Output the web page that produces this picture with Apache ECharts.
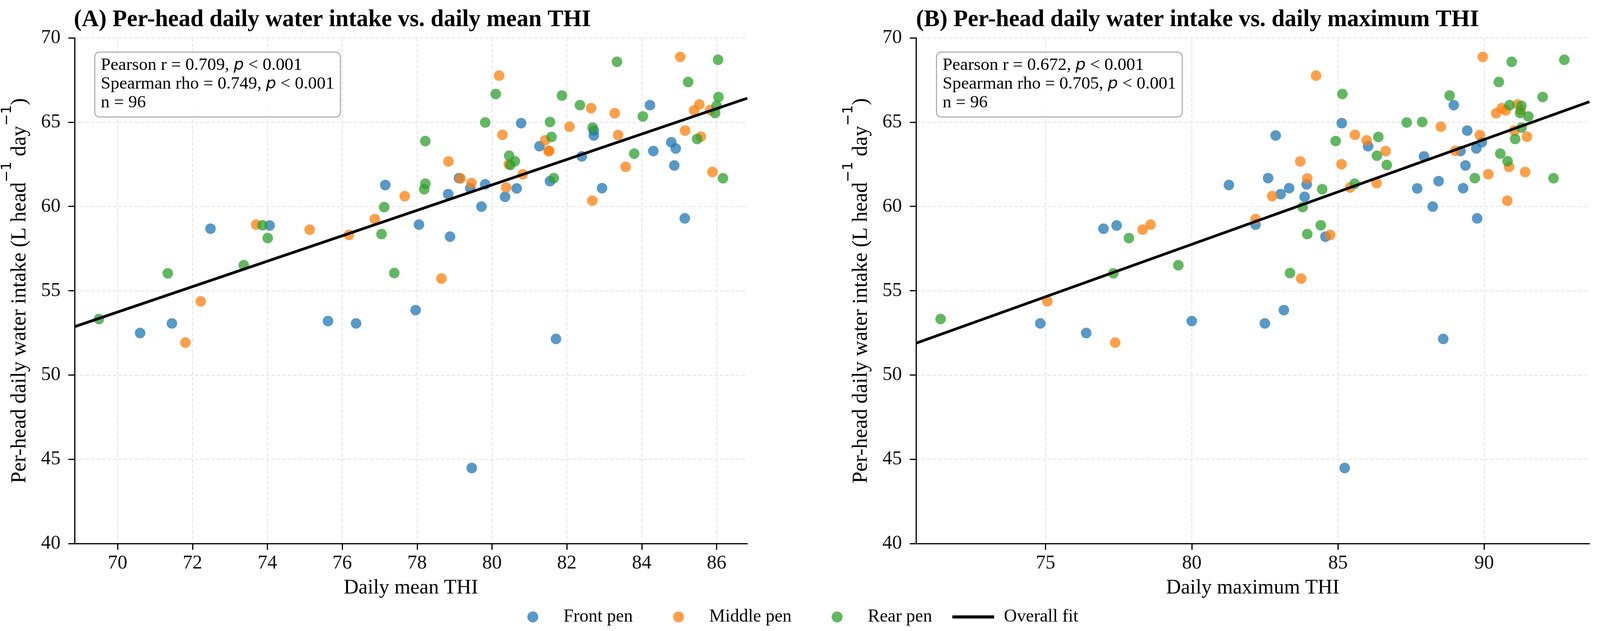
<!DOCTYPE html>
<html>
<head>
<meta charset="utf-8">
<script src="https://cdn.jsdelivr.net/npm/echarts@6/dist/echarts.min.js"></script>
<style>
html, body { margin: 0; padding: 0; background: #fff; }
#chart { width: 4117px; height: 1616px; }
</style>
</head>
<body>
<div id="chart"></div>
<script>
// per-head daily water intake, with daily mean / max THI of the same day
var frontIntake = [52.49, 53.06, 58.68, 58.87, 53.20, 53.06, 61.27, 53.85, 58.92, 58.21, 60.73, 61.68, 61.08, 61.31, 59.99, 60.57,
                   61.07, 64.94, 63.57, 61.50, 52.14, 62.97, 64.50, 64.21, 61.08, 66.01, 63.29, 63.81, 63.44, 62.43, 59.29, 44.48];
var frontMeanTHI = [70.60, 71.45, 72.48, 74.06, 75.62, 76.37, 77.15, 77.96, 78.05, 78.88, 78.83, 79.12, 79.42, 79.82, 79.72, 80.35,
                    80.66, 80.78, 81.27, 81.55, 81.71, 82.40, 82.72, 82.72, 82.94, 84.22, 84.31, 84.79, 84.91, 84.87, 85.15, 79.46];
var frontMaxTHI = [76.39, 74.82, 76.98, 77.43, 80.00, 82.50, 81.27, 83.15, 82.18, 84.57, 83.04, 82.61, 83.33, 83.93, 88.24, 83.86,
                   87.71, 85.13, 86.03, 88.44, 88.60, 87.94, 89.42, 82.87, 89.28, 88.96, 89.19, 89.92, 89.73, 89.36, 89.76, 85.23];

var middleIntake = [51.92, 54.37, 58.92, 58.62, 58.31, 59.25, 60.61, 55.72, 62.67, 61.66, 61.39, 67.76, 64.25, 61.12, 61.91, 63.92,
                    63.28, 63.30, 64.73, 65.83, 60.34, 65.53, 64.24, 62.35, 68.87, 64.50, 66.05, 65.70, 64.14, 65.72, 62.04, 62.50];
var middleMeanTHI = [71.81, 72.22, 73.70, 75.13, 76.18, 76.87, 77.67, 78.65, 78.84, 79.16, 79.45, 80.19, 80.28, 80.38, 80.82, 81.42,
                     81.51, 81.53, 82.07, 82.65, 82.68, 83.28, 83.37, 83.57, 85.03, 85.16, 85.54, 85.40, 85.58, 85.83, 85.89, 80.45];
var middleMaxTHI = [77.38, 75.06, 78.59, 78.32, 84.73, 82.18, 82.75, 83.74, 83.71, 83.95, 86.32, 84.25, 85.58, 85.41, 90.14, 85.98,
                    86.63, 89.01, 88.52, 90.60, 90.79, 90.41, 89.85, 90.85, 89.95, 91.03, 91.14, 90.74, 91.46, 91.25, 91.40, 85.12];

var rearIntake = [53.32, 56.03, 56.51, 58.88, 58.12, 59.96, 58.36, 56.05, 63.88, 61.35, 61.02, 64.98, 66.67, 63.01, 62.68, 62.46,
                  64.12, 65.01, 61.68, 66.58, 66.01, 64.68, 68.58, 63.13, 65.34, 67.38, 64.00, 68.70, 66.49, 65.97, 65.54, 61.67];
var rearMeanTHI = [69.50, 71.34, 73.37, 73.87, 74.01, 77.12, 77.05, 77.39, 78.22, 78.22, 78.19, 79.82, 80.10, 80.46, 80.61, 80.49,
                   81.59, 81.55, 81.65, 81.87, 82.35, 82.69, 83.34, 83.80, 84.03, 85.24, 85.48, 86.04, 86.05, 86.00, 85.96, 86.17];
var rearMaxTHI = [71.41, 77.32, 79.54, 84.41, 77.85, 83.79, 83.95, 83.36, 84.92, 85.57, 84.46, 87.35, 85.15, 86.33, 90.80, 86.67,
                  86.38, 87.88, 89.68, 88.82, 90.87, 91.28, 90.94, 90.55, 91.51, 90.50, 91.06, 92.74, 92.00, 91.27, 91.23, 92.37];

var meanTicks = [70, 72, 74, 76, 78, 80, 82, 84, 86];
var maxTicks = [75, 80, 85, 90];
var intakeTicks = [40, 45, 50, 55, 60, 65, 70];

var statsA = ['0.709', '0.749', '96'];
var statsB = ['0.672', '0.705', '96'];

var serif = 'Liberation Serif';

function pairs(xs, ys) {
    return xs.map(function (x, i) { return [x, ys[i]]; });
}

// least squares line over all pens, drawn across the axis range
function fitLine(xs, ys, x0, x1) {
    var n = xs.length, mx = 0, my = 0, sxy = 0, sxx = 0;
    for (var i = 0; i < n; i++) { mx += xs[i]; my += ys[i]; }
    mx /= n; my /= n;
    for (var j = 0; j < n; j++) {
        sxy += (xs[j] - mx) * (ys[j] - my);
        sxx += (xs[j] - mx) * (xs[j] - mx);
    }
    var b = sxy / sxx, a = my - b * mx;
    return [[x0, a + b * x0], [x1, a + b * x1]];
}

var allIntake = frontIntake.concat(middleIntake, rearIntake);
var allMean = frontMeanTHI.concat(middleMeanTHI, rearMeanTHI);
var allMax = frontMaxTHI.concat(middleMaxTHI, rearMaxTHI);

var rangeMean = [68.85, 86.82];
var rangeMax = [70.57, 93.6];

function statText(s) {
    return 'Pearson r = ' + s[0] + ', {p|p} < 0.001\n' +
           'Spearman rho = ' + s[1] + ', {p|p} < 0.001\n' +
           'n = ' + s[2];
}

function statBox(s, left) {
    return {
        text: statText(s),
        left: left,
        top: 133,
        padding: [10, 16, 13, 16],
        backgroundColor: 'rgba(255,255,255,0.8)',
        borderColor: '#b3b3b3',
        borderWidth: 3,
        borderRadius: 12,
        textStyle: {
            fontFamily: serif, fontSize: 45, fontWeight: 'normal', color: '#000', lineHeight: 48,
            rich: { p: { fontFamily: 'DejaVu Sans', fontStyle: 'italic', fontSize: 41, lineHeight: 48, color: '#000' } }
        }
    };
}

function panelTitle(text, left) {
    return {
        text: text, left: left, top: 21, padding: 0,
        textStyle: { fontFamily: serif, fontWeight: 'bold', fontSize: 60.5, color: '#000' }
    };
}

var gridLine = { show: true, lineStyle: { color: '#e2e2e2', width: 2, type: [9, 5] } };

function xAxisOf(idx, range, ticks, name) {
    return {
        type: 'value', gridIndex: idx, min: range[0], max: range[1],
        name: name, nameLocation: 'middle', nameGap: 88,
        nameTextStyle: { fontFamily: serif, fontSize: 52.5, color: '#000' },
        axisLine: { show: true, onZero: false, lineStyle: { color: '#000', width: 3 } },
        axisTick: { show: true, inside: false, length: 16, lineStyle: { color: '#000', width: 3 }, customValues: ticks },
        axisLabel: { fontFamily: serif, fontSize: 50, color: '#111', margin: 26, customValues: ticks },
        splitLine: gridLine
    };
}

function yAxisOf(idx) {
    return {
        type: 'value', gridIndex: idx, min: intakeTicks[0], max: intakeTicks[intakeTicks.length - 1], interval: 5,
        name: 'Per-head daily water intake (L head{s|\u22121} day{s|\u22121})',
        nameLocation: 'middle', nameGap: 52, nameRotate: 90,
        nameTextStyle: {
            fontFamily: serif, fontSize: 54, color: '#000', lineHeight: 100,
            rich: { s: { fontFamily: 'DejaVu Sans', fontSize: 36, color: '#000', verticalAlign: 'top', lineHeight: 40 } }
        },
        axisLine: { show: true, lineStyle: { color: '#000', width: 3 } },
        axisTick: { show: true, inside: false, length: 16, lineStyle: { color: '#000', width: 3 } },
        axisLabel: { fontFamily: serif, fontSize: 50, color: '#111', margin: 36 },
        splitLine: gridLine
    };
}

function scatterOf(name, color, xs, ys, idx) {
    return {
        type: 'scatter', name: name, xAxisIndex: idx, yAxisIndex: idx,
        data: pairs(xs, ys), symbol: 'circle', symbolSize: 27,
        itemStyle: { color: color, opacity: 0.75 },
        emphasis: { disabled: true }
    };
}

function fitOf(xs, range, idx) {
    return {
        type: 'line', name: 'Overall fit', xAxisIndex: idx, yAxisIndex: idx,
        data: fitLine(xs, allIntake, range[0], range[1]),
        symbol: 'none', showSymbol: false, z: 5,
        lineStyle: { color: '#000', width: 7 }, itemStyle: { color: '#000' },
        emphasis: { disabled: true }
    };
}

// one legend per entry so each handle sits where the reference has it
function legendItem(name, left, icon) {
    return {
        data: [{ name: name, icon: icon }],
        left: left, top: 1552, orient: 'horizontal',
        itemWidth: 107, itemHeight: 28, symbolKeepAspect: true,
        formatter: function (n) { return '{g| }' + n; },
        textStyle: {
            fontFamily: serif, fontSize: 46, color: '#000',
            rich: { g: { width: 20, fontSize: 46 } }
        }
    };
}

var chartDom = document.getElementById('chart');
var myChart = echarts.init(chartDom, null, { renderer: 'canvas' });
var option;

option = {
    animation: false,
    backgroundColor: '#fff',
    title: [
        panelTitle('(A) Per-head daily water intake vs. daily mean THI', 189),
        panelTitle('(B) Per-head daily water intake vs. daily maximum THI', 2345),
        statBox(statsA, 242),
        statBox(statsB, 2397)
    ],
    legend: [
        legendItem('Front pen', 1345, 'circle'),
        legendItem('Middle pen', 1718, 'circle'),
        legendItem('Rear pen', 2124, 'circle'),
        legendItem('Overall fit', 2433, 'path://M0,0L107,0L107,8L0,8Z')
    ],
    grid: [
        { left: 189, top: 97, width: 1724, height: 1295, containLabel: false },
        { left: 2345, top: 97, width: 1724, height: 1295, containLabel: false }
    ],
    xAxis: [
        xAxisOf(0, rangeMean, meanTicks, 'Daily mean THI'),
        xAxisOf(1, rangeMax, maxTicks, 'Daily maximum THI')
    ],
    yAxis: [yAxisOf(0), yAxisOf(1)],
    series: [
        scatterOf('Front pen', '#1f77b4', frontMeanTHI, frontIntake, 0),
        scatterOf('Middle pen', '#ff7f0e', middleMeanTHI, middleIntake, 0),
        scatterOf('Rear pen', '#2ca02c', rearMeanTHI, rearIntake, 0),
        fitOf(allMean, rangeMean, 0),
        scatterOf('Front pen', '#1f77b4', frontMaxTHI, frontIntake, 1),
        scatterOf('Middle pen', '#ff7f0e', middleMaxTHI, middleIntake, 1),
        scatterOf('Rear pen', '#2ca02c', rearMaxTHI, rearIntake, 1),
        fitOf(allMax, rangeMax, 1)
    ]
};
option && myChart.setOption(option);
</script>
</body>
</html>
